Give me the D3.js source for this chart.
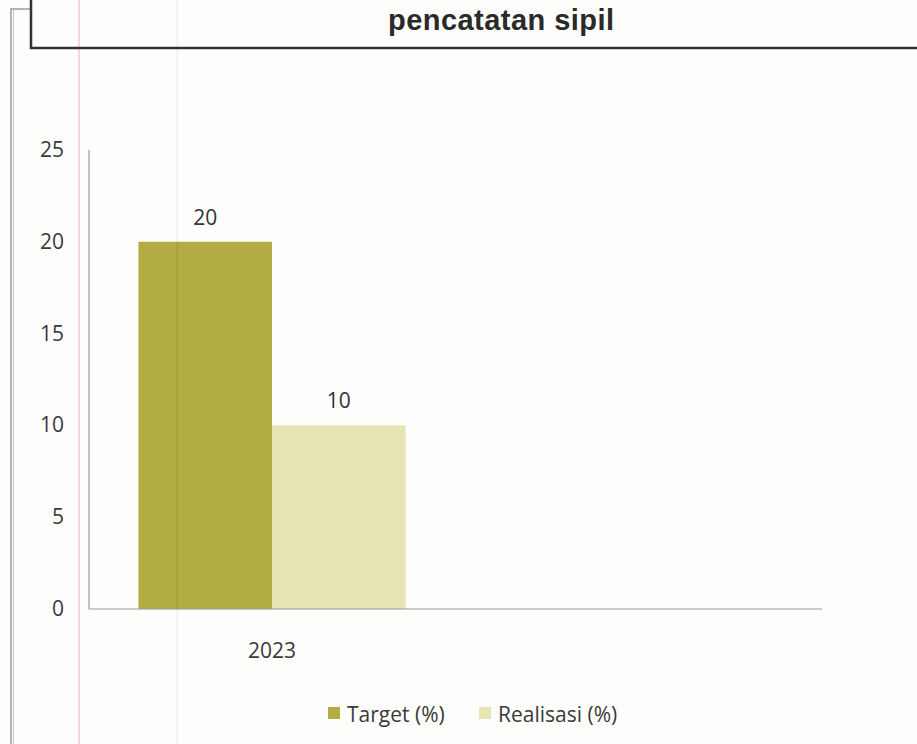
<!DOCTYPE html>
<html><head><meta charset="utf-8">
<script src="https://cdn.jsdelivr.net/npm/d3@7"></script>
<style>body{margin:0;background:#fff}svg{display:block}</style>
</head><body>
<script>
const title = "pencatatan sipil";
const categories = ["2023", ""];
const seriesNames = ["Target (%)", "Realisasi (%)"];
const targetValues = [20, null];
const realisasiValues = [10, null];
const yTicks = [0, 5, 10, 15, 20, 25];
const colors = ["#b2ac42", "#e6e4b2"];

(function(){
const W = 917, H = 744;
const svg = d3.select("body").append("svg").attr("width", W).attr("height", H);
svg.append("rect").attr("width", W).attr("height", H).attr("fill", "#fdfdfb");

// scan/page decorations
svg.append("line").attr("x1", 79).attr("x2", 79).attr("y1", 0).attr("y2", H).attr("stroke", "#ecc8d0").attr("stroke-width", 1.5);
svg.append("line").attr("x1", 177).attr("x2", 177).attr("y1", 0).attr("y2", H).attr("stroke", "#ececea").attr("stroke-width", 1);
svg.append("path").attr("d", `M11,${H} V9 H31`).attr("fill", "none").attr("stroke", "#9a9a9a").attr("stroke-width", 1.5);
svg.append("line").attr("x1", 13.5).attr("x2", 13.5).attr("y1", 10).attr("y2", H).attr("stroke", "#c8c8c8").attr("stroke-width", 1);
// title box
svg.append("path").attr("d", `M31,-5 V48 H${W+5}`).attr("fill", "none").attr("stroke", "#333").attr("stroke-width", 2.5);
svg.append("text").attr("x", 501).attr("y", 30).attr("text-anchor", "middle")
  .attr("font-family", "Liberation Sans, Arial, sans-serif").attr("font-weight", "bold")
  .attr("font-size", 29).attr("textLength", 226).attr("fill", "#2a2a2a").text(title);

const pL = 89, pR = 822, pT = 150, pB = 609;
const x0 = d3.scaleBand().domain(categories).range([pL, 455 + (455 - pL)]);
const x1 = d3.scaleBand().domain(seriesNames).range([0, x0.bandwidth()]).paddingOuter(0.37).paddingInner(0);
const y = d3.scaleLinear().domain([0, 25]).range([pB, pT]);

const font = "Open Sans, Noto Sans, sans-serif";
const fs = 21;
const series = [targetValues, realisasiValues];
series.forEach((vals, si) => {
  categories.forEach((c, ci) => {
    const v = vals[ci];
    if (v == null) return;
    const bx = x0(c) + x1(seriesNames[si]);
    svg.append("rect").attr("x", bx).attr("y", y(v)).attr("width", x1.bandwidth()).attr("height", y(0) - y(v)).attr("fill", colors[si]);
    svg.append("text").attr("x", bx + x1.bandwidth() / 2).attr("y", y(v) - 17)
      .attr("text-anchor", "middle").attr("font-family", font).attr("font-size", fs).attr("fill", "#333").text(v);
  });
});
// stripe artifact through target bar
svg.append("line").attr("x1", 177).attr("x2", 177).attr("y1", y(20)).attr("y2", pB).attr("stroke", "#a39d3a").attr("stroke-width", 2).attr("opacity", 0.5);

// axes
svg.append("line").attr("x1", pL).attr("x2", pL).attr("y1", pT).attr("y2", pB).attr("stroke", "#999").attr("stroke-width", 1.2);
svg.append("line").attr("x1", pL).attr("x2", pR).attr("y1", pB).attr("y2", pB).attr("stroke", "#999").attr("stroke-width", 1.2);
svg.selectAll(".yt").data(yTicks).enter().append("text")
  .attr("x", 64).attr("y", d => y(d) + 7).attr("text-anchor", "end")
  .attr("font-family", font).attr("font-size", fs).attr("fill", "#3a3a3a").text(d => d);
svg.selectAll(".xt").data(categories).enter().append("text")
  .attr("x", d => x0(d) + x0.bandwidth() / 2).attr("y", 658).attr("text-anchor", "middle")
  .attr("font-family", font).attr("font-size", fs).attr("fill", "#3a3a3a").text(d => d);

// legend
const legX = [328, 479];
seriesNames.forEach((n, i) => {
  svg.append("rect").attr("x", legX[i]).attr("y", 707).attr("width", 12).attr("height", 12).attr("fill", colors[i]);
  svg.append("text").attr("x", legX[i] + 19).attr("y", 722).attr("font-family", font).attr("font-size", fs).attr("fill", "#3a3a3a").text(n);
});
})();
</script>
</body></html>
